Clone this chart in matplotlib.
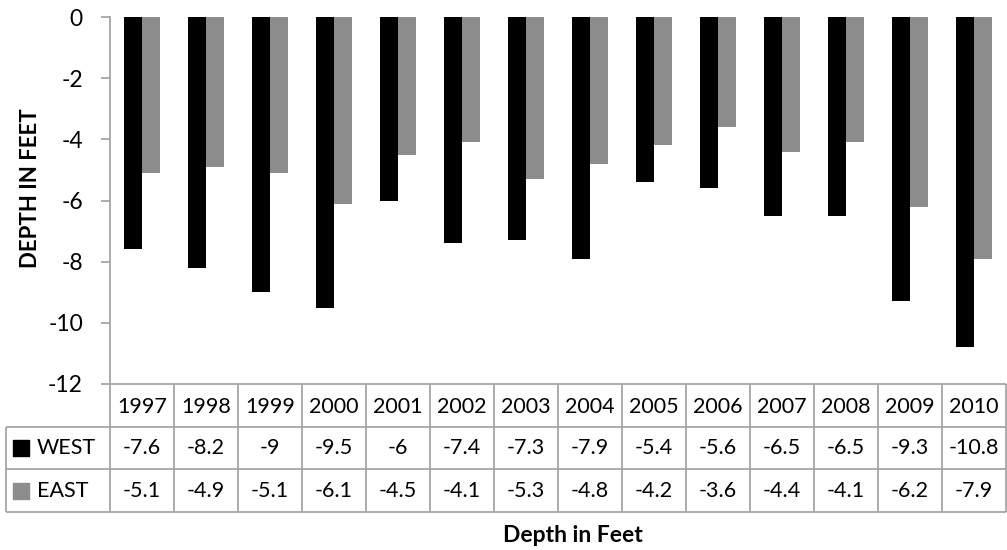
import matplotlib.pyplot as plt
import numpy as np

years = ["1997", "1998", "1999", "2000", "2001", "2002", "2003",
         "2004", "2005", "2006", "2007", "2008", "2009", "2010"]
west = [-7.6, -8.2, -9, -9.5, -6, -7.4, -7.3, -7.9, -5.4, -5.6, -6.5, -6.5, -9.3, -10.8]
east = [-5.1, -4.9, -5.1, -6.1, -4.5, -4.1, -5.3, -4.8, -4.2, -3.6, -4.4, -4.1, -6.2, -7.9]
series_names = ["WEST", "EAST"]
series_colors = ["#000000", "#8c8c8c"]

plt.rcParams["font.family"] = ["Lato", "DejaVu Sans"]
GRID = "#a6a6a6"
W, H = 1007, 550
FS = 15.5

fig = plt.figure(figsize=(W / 100, H / 100), dpi=100)

# main plot area (pixel layout)
ax = fig.add_axes((110 / W, 1 - 384 / H, 896 / W, 367 / H))
x = np.arange(len(years))
bw = 1 / 3.5
ax.bar(x - bw / 2, west, width=bw, color=series_colors[0])
ax.bar(x + bw / 2, east, width=bw, color=series_colors[1])
ax.set_xlim(-0.5, len(years) - 0.5)
ax.set_ylim(-12, 0)
ax.set_yticks(range(-12, 1, 2))
ax.set_yticklabels([str(v) for v in range(-12, 1, 2)])
ax.set_xticks([])
for s in ["top", "right", "bottom"]:
    ax.spines[s].set_visible(False)
ax.spines["left"].set_color(GRID)
ax.spines["left"].set_linewidth(1.3)
ax.tick_params(axis="y", direction="out", length=6.5, width=1.3,
               color=GRID, labelsize=16.5, pad=13)
ax.set_ylabel("DEPTH IN FEET", fontsize=16, fontweight="bold")
ax.yaxis.set_label_coords(-(110 - 31) / 896, (384 - 188) / 367)
ax.yaxis.label.set_va("center")

# data table under the plot
lab_w = 104 / 64
tax = fig.add_axes((6 / W, 1 - 512 / H, 1000 / W, 128 / H))
tax.set_xlim(-0.5 - lab_w, len(years) - 0.5)
tax.set_ylim(0, 3)
tax.axis("off")
lkw = dict(color=GRID, lw=1.3, clip_on=False, solid_capstyle="butt")
tax.plot([-0.5, len(years) - 0.5], [3, 3], **lkw)
for yy in [2, 1, 0]:
    tax.plot([-0.5 - lab_w, len(years) - 0.5], [yy, yy], **lkw)
for k in range(len(years) + 1):
    tax.plot([k - 0.5, k - 0.5], [0, 3], **lkw)
tax.plot([-0.5 - lab_w, -0.5 - lab_w], [0, 2], **lkw)

for i, yr in enumerate(years):
    tax.text(i, 2.45, yr, ha="center", va="center", fontsize=FS)
for r, vals in enumerate([west, east]):
    yc = 1.5 - r
    for i, v in enumerate(vals):
        tax.text(i, yc, f"{v:g}", ha="center", va="center", fontsize=FS)
    tax.scatter([-0.5 - lab_w + 0.23], [yc], marker="s", s=120,
                color=series_colors[r], clip_on=False)
    tax.text(-0.5 - lab_w + 0.48, yc, series_names[r], ha="left",
             va="center", fontsize=FS)

fig.text(573 / W, 1 - 536 / H, "Depth in Feet", ha="center",
         va="center", fontsize=16.5, fontweight="bold")

fig.savefig("out.png", dpi=100)
